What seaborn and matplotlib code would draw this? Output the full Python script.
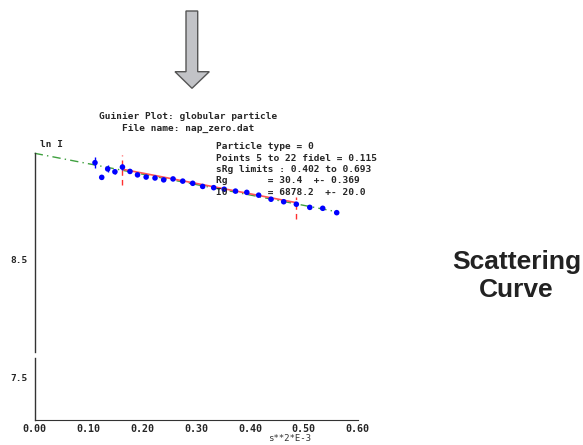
import matplotlib
matplotlib.use("Agg")
import matplotlib.pyplot as plt
import seaborn as sns
import pandas as pd
from matplotlib.patches import Polygon

# Guinier data (x = s**2 * E-3, y = ln I)
s2 = [0.112, 0.1245, 0.1356, 0.149, 0.163, 0.177, 0.191, 0.207, 0.2235, 0.2396,
      0.257, 0.275, 0.2935, 0.312, 0.3325, 0.352, 0.373, 0.394, 0.416, 0.439,
      0.4625, 0.486, 0.511, 0.535, 0.561]
lnI = [8.809, 8.762, 8.789, 8.780, 8.795, 8.781, 8.770, 8.763, 8.760, 8.754,
       8.757, 8.750, 8.743, 8.733, 8.729, 8.724, 8.718, 8.714, 8.705, 8.692,
       8.684, 8.676, 8.666, 8.663, 8.649]
err = [0.018, 0.006, 0.011, 0.006, 0.009, 0.004, 0.004, 0.004, 0.004, 0.004,
       0.004, 0.004, 0.004, 0.004, 0.004, 0.004, 0.004, 0.004, 0.004, 0.004,
       0.004, 0.004, 0.004, 0.004, 0.004]

# extrapolated fit (green) and fitted range (red)
green_x = [0.0, 0.555]
green_y = [8.839, 8.654]
red_x = [0.163, 0.486]
red_y = [8.788, 8.681]
# range markers
lim_x = [0.163, 0.486]
lim_lo = [8.737, 8.630]
lim_hi = [8.833, 8.699]

info = ["Particle type = 0",
        "Points 5 to 22 fidel = 0.115",
        "sRg limits : 0.402 to 0.693",
        "Rg       = 30.4  +- 0.369",
        "I0       = 6878.2  +- 20.0"]

xticks = [0.0, 0.1, 0.2, 0.3, 0.4, 0.5, 0.6]

df = pd.DataFrame({"s2": s2, "lnI": lnI})

sns.set_style("white")
mono = {"family": "DejaVu Sans Mono", "weight": "bold", "size": 6.8}

W, H = 583, 445
fig = plt.figure(figsize=(W / 100, H / 100), dpi=100)

def fx(px):
    return px / W

def fy(py):
    return 1 - py / H

left = fx(34.7)
width = 323 / W
ax = fig.add_axes([left, fy(352), width, 199 / H])
ax2 = fig.add_axes([left, fy(420), width, 62 / H])

for a in (ax, ax2):
    a.set_facecolor("none")
    a.set_xlim(0, 0.6)
    for sp in ("top", "right"):
        a.spines[sp].set_visible(False)
    a.spines["left"].set_color("#333333")
    a.spines["left"].set_linewidth(1)

ax.spines["bottom"].set_visible(False)
ax.set_ylim(8.203, 8.84)
ax.set_xticks([])
ax.set_yticks([8.5])
ax.set_yticklabels(["8.5"], fontdict=mono)
ax.tick_params(axis="y", direction="out", length=4, width=1, color="#333333", pad=1)

ax2.set_ylim(7.365, 7.563)
ax2.set_yticks([7.5])
ax2.set_yticklabels(["7.5"], fontdict=mono)
ax2.spines["bottom"].set_color("#333333")
ax2.set_xticks(xticks)
ax2.set_xticklabels(["%.2f" % v for v in xticks], fontdict=dict(mono, size=7.2))
ax2.tick_params(axis="x", direction="in", length=4, width=1, color="#333333", pad=3)
ax2.tick_params(axis="y", direction="out", length=4, width=1, color="#333333", pad=1)
ax2.text(0.474, -0.30, "s**2*E-3", transform=ax2.transData if False else ax2.get_xaxis_transform(),
         ha="center", va="center", family="DejaVu Sans Mono", size=6.5, color="#333333")

# lines
ax.plot(green_x, green_y, color="#3fa03f", lw=1, ls=(0, (6, 3, 1, 3)), clip_on=False)
ax.plot(red_x, red_y, color="#ff5555", lw=1.2)
ax.vlines(lim_x, lim_lo, lim_hi, color="#ff3030", lw=1, linestyles=(0, (4, 3)))

# points with error bars
ax.errorbar(s2, lnI, yerr=err, fmt="none", ecolor="#0000ff", elinewidth=1)
sns.scatterplot(data=df, x="s2", y="lnI", ax=ax, color="#0000ff", s=16,
                edgecolor="none", legend=False, zorder=3)
ax.set_xlabel("")
ax.set_ylabel("")

# texts
fig.text(fx(188), fy(116.7), "Guinier Plot: globular particle", ha="center", va="center", **mono)
fig.text(fx(188), fy(128.3), "File name: nap_zero.dat", ha="center", va="center", **mono)
fig.text(fx(40), fy(144.3), "ln I", ha="left", va="center", **mono)
for i, line in enumerate(info):
    fig.text(fx(215.5), fy(146.7 + 11.4 * i), line, ha="left", va="center", **mono)

fig.text(fx(516.5), fy(262), "Scattering", ha="center", va="center",
         family="Liberation Sans", weight="bold", size=19, color="#222222")
fig.text(fx(516.5), fy(290), "Curve", ha="center", va="center",
         family="Liberation Sans", weight="bold", size=19, color="#222222")

# arrow
pts = [(186, 11), (197.7, 11), (197.7, 71.7), (209.3, 71.7), (192, 88.3),
       (175, 71.7), (186, 71.7)]
fig.patches.append(Polygon([(fx(x), fy(y)) for x, y in pts], closed=True,
                           transform=fig.transFigure, facecolor="#c2c3c7",
                           edgecolor="#555555", lw=1))

fig.savefig("out.png", dpi=100)
